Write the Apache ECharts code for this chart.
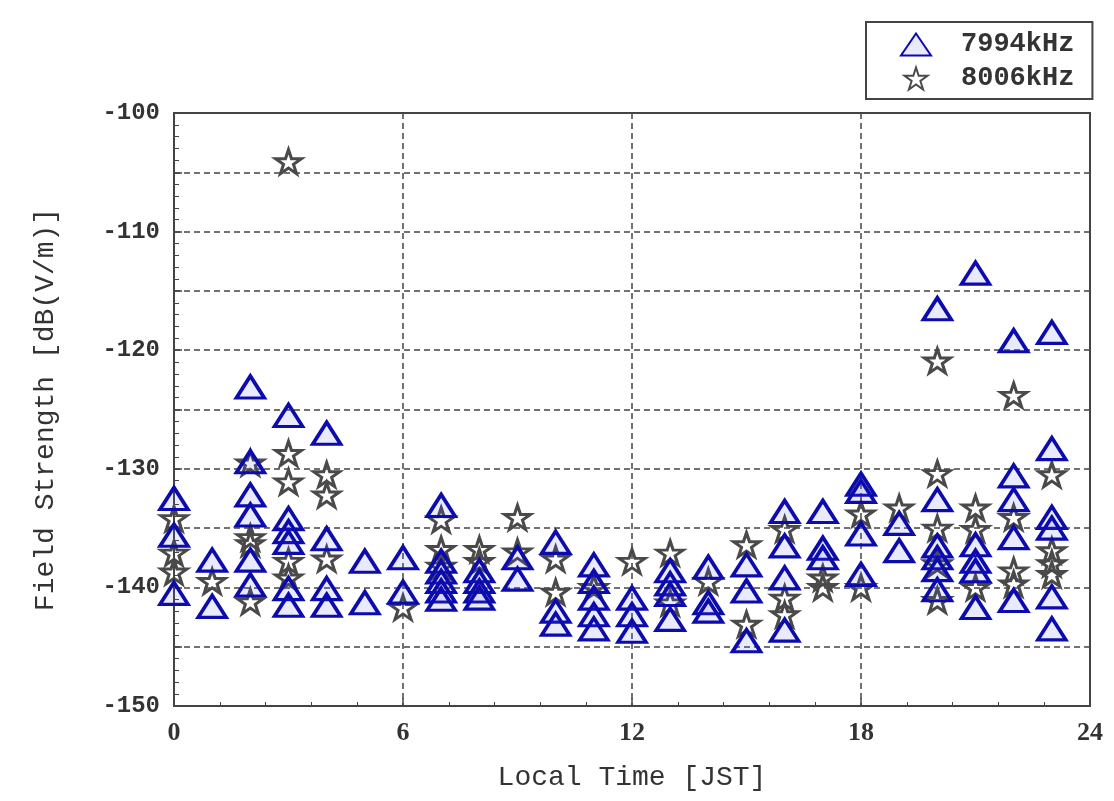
<!DOCTYPE html>
<html>
<head>
<meta charset="utf-8">
<script src="https://cdn.jsdelivr.net/npm/echarts@6/dist/echarts.min.js"></script>
<style>html,body{margin:0;padding:0;background:#fff;}#c{width:1114px;height:801px;}</style>
</head>
<body>
<div id="c"></div>
<script>
// 7994kHz (triangles)
const triHours = [
  0,0,0,
  1,1,
  2,2,2,2,2,2,
  3,3,3,3,3,3,
  4,4,4,4,
  5,5,
  6,6,
  7,7,7,7,7,7,
  8,8,8,8,
  9,9,
  10,10,10,
  11,11,11,11,11,
  12,12,12,
  13,13,13,13,
  14,14,14,
  15,15,15,
  16,16,16,16,
  17,17,17,
  18,18,18,18,
  19,19,
  20,20,20,20,20,20,
  21,21,21,21,21,
  22,22,22,22,22,
  23,23,23,23,23,23
];
const triValues = [
  -132.5,-135.6,-140.5,
  -137.7,-141.6,
  -123.1,-129.4,-132.2,-133.9,-137.7,-139.8,
  -125.5,-134.2,-135.3,-136.2,-140.1,-141.5,
  -127.0,-135.9,-140.1,-141.5,
  -137.8,-141.3,
  -137.5,-140.4,
  -133.1,-137.8,-138.7,-139.5,-140.3,-141.0,
  -138.6,-139.5,-140.3,-140.9,
  -137.5,-139.3,
  -136.2,-142.0,-143.1,
  -138.1,-139.5,-140.9,-142.3,-143.5,
  -140.9,-142.3,-143.7,
  -138.6,-139.7,-140.6,-142.7,
  -138.3,-141.3,-142.0,
  -138.1,-140.3,-144.5,
  -133.6,-136.5,-139.2,-143.6,
  -133.6,-136.7,-137.5,
  -131.3,-131.9,-135.5,-138.9,
  -134.6,-136.9,
  -116.5,-132.6,-136.5,-137.5,-138.5,-140.2,
  -113.5,-136.4,-137.8,-138.6,-141.7,
  -119.2,-130.6,-132.6,-135.8,-141.1,
  -118.5,-128.3,-134.1,-135.0,-140.8,-143.5
];
// 8006kHz (stars)
const starHours = [
  0,0,0,
  1,
  2,2,2,2,
  3,3,3,3,3,
  4,4,4,
  6,
  7,7,7,
  8,8,
  9,9,
  10,10,
  11,
  12,
  13,13,
  14,
  15,15,
  16,16,16,
  17,17,
  18,18,
  19,
  20,20,20,20,20,
  21,21,21,
  22,22,22,22,
  23,23,23,23
];
const starValues = [
  -134.2,-137.1,-138.7,
  -139.5,
  -129.5,-135.8,-136.3,-141.2,
  -104.1,-128.7,-131.1,-137.8,-139.2,
  -130.5,-132.2,-137.6,
  -141.7,
  -134.3,-136.8,-138.2,
  -136.8,-137.8,
  -134.1,-137.0,
  -137.6,-140.4,
  -140.0,
  -137.8,
  -137.1,-141.3,
  -139.5,
  -136.4,-143.1,
  -135.1,-140.9,-142.3,
  -139.2,-140.0,
  -133.8,-140.0,
  -133.3,
  -120.9,-130.4,-135.0,-138.0,-141.1,
  -133.3,-135.1,-140.0,
  -123.8,-134.1,-138.6,-139.7,
  -130.5,-136.9,-138.0,-138.9
];
const seriesNames = ['7994kHz', '8006kHz'];
const xTicks = [0, 6, 12, 18, 24];
const yTicks = [-150, -140, -130, -120, -110, -100];

const starPath = 'path://M50,2 L61,36 L97,36 L68,57 L79,92 L50,71 L21,92 L32,57 L3,36 L39,36 Z';
const triData = triHours.map((h, i) => [h, triValues[i]]);
const starData = starHours.map((h, i) => [h, starValues[i]]);

const chart = echarts.init(document.getElementById('c'), null, {renderer: 'canvas'});
const gridDash = {color: '#444', width: 1.5, type: [6, 4]};
chart.setOption({
  backgroundColor: '#fff',
  animation: false,
  grid: {left: 174, right: 24, top: 113, bottom: 95, show: true, borderColor: '#444', borderWidth: 2, backgroundColor: 'transparent'},
  legend: {
    data: seriesNames,
    orient: 'vertical',
    left: 866, top: 22,
    padding: [9, 18, 7, 34],
    itemGap: 7,
    itemWidth: 30, itemHeight: 22,
    borderColor: '#444', borderWidth: 2,
    textStyle: {fontFamily: 'Liberation Mono', fontSize: 27, fontWeight: 'bold', color: '#333', padding: [0, 0, 0, 25]}
  },
  xAxis: {
    type: 'value', min: 0, max: 24, interval: 6,
    name: 'Local Time [JST]', nameLocation: 'middle', nameGap: 58,
    nameTextStyle: {fontFamily: 'Liberation Mono', fontSize: 28, color: '#333'},
    axisLine: {show: true, lineStyle: {color: '#444', width: 2}},
    axisTick: {show: true, inside: true, length: 8, lineStyle: {color: '#444', width: 1.5}},
    minorTick: {show: true, splitNumber: 5, length: 4, lineStyle: {color: '#444'}},
    axisLabel: {margin: 14, fontFamily: 'Liberation Serif', fontWeight: 'bold', fontSize: 26, color: '#333',
      formatter: v => xTicks.includes(v) ? String(v) : ''},
    splitLine: {show: true, lineStyle: gridDash}
  },
  yAxis: {
    type: 'value', min: -150, max: -100, interval: 5,
    name: 'Field Strength [dB(V/m)]', nameLocation: 'middle', nameGap: 114, nameRotate: 90,
    nameTextStyle: {fontFamily: 'Liberation Mono', fontSize: 28, color: '#333'},
    axisLine: {show: true, lineStyle: {color: '#444', width: 2}},
    axisTick: {show: true, inside: true, length: 8, lineStyle: {color: '#444', width: 1.5}},
    minorTick: {show: true, splitNumber: 5, length: 5, lineStyle: {color: '#444'}},
    axisLabel: {margin: 14, fontFamily: 'Liberation Mono', fontWeight: 'bold', fontSize: 24, color: '#333',
      formatter: v => yTicks.includes(v) ? String(v) : ''},
    splitLine: {show: true, lineStyle: gridDash}
  },
  series: [
    {
      name: seriesNames[0], type: 'scatter', z: 4,
      symbol: 'triangle', symbolSize: [28, 22],
      itemStyle: {color: 'rgba(80,80,255,0.12)', borderColor: '#0c0cae', borderWidth: 3.5, opacity: 1},
      data: triData
    },
    {
      name: seriesNames[1], type: 'scatter', z: 3,
      symbol: starPath, symbolSize: [26, 24],
      itemStyle: {color: 'rgba(255,255,255,0)', borderColor: '#4a4a4a', borderWidth: 3, opacity: 1},
      data: starData
    }
  ]
});
</script>
</body>
</html>
